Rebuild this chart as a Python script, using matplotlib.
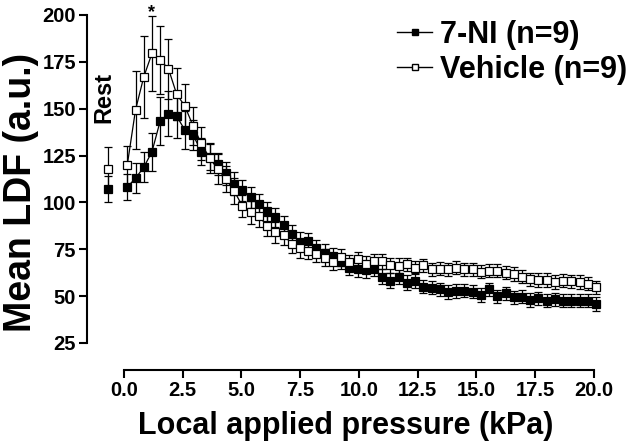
import matplotlib
matplotlib.use("Agg")
import matplotlib.pyplot as plt
from matplotlib.lines import Line2D

plt.rcParams['font.family'] = ['Liberation Sans', 'DejaVu Sans']
plt.rcParams['font.weight'] = 'bold'

# Data
pressure = [0.14, 0.49, 0.84, 1.19, 1.54, 1.89, 2.24, 2.59, 2.94, 3.29,
            3.64, 3.99, 4.34, 4.69, 5.04, 5.39, 5.74, 6.09, 6.44, 6.79,
            7.14, 7.49, 7.84, 8.19, 8.54, 8.89, 9.24, 9.59, 9.94, 10.29,
            10.64, 10.99, 11.34, 11.69, 12.04, 12.39, 12.74, 13.09, 13.44, 13.79,
            14.14, 14.49, 14.84, 15.19, 15.54, 15.89, 16.24, 16.59, 16.94, 17.29,
            17.64, 17.99, 18.34, 18.69, 19.04, 19.39, 19.74, 20.09]

vehicle = [120, 149.3, 166.9, 179.5, 176, 171.4, 157.8, 151.4, 140.8, 131.5,
           123.7, 117.8, 112.5, 106.1, 98, 94.7, 92.7, 87.4, 84, 82.4,
           78, 75.5, 74.1, 72.5, 70.5, 68.4, 70.8, 68.2, 69.8, 67.3,
           68.7, 68.7, 66.4, 66.1, 67.1, 65.2, 66.4, 64.3, 64.6, 64.3,
           65.2, 64.3, 64.3, 63, 63.6, 63.6, 62.5, 61.8, 60.4, 59,
           58.6, 58.6, 57.5, 58.2, 57.9, 57.5, 56.5, 54.7]
vehicle_se = [10, 21, 22, 20, 18, 16, 14, 12, 10, 9,
              8, 8, 7, 7, 6, 6, 6, 5.5, 5.5, 5,
              5, 5, 4.5, 4.5, 4.5, 4.5, 4.5, 4, 4, 4,
              4, 4, 4, 4, 3.5, 3.5, 3.5, 3.5, 3.5, 3.5,
              3.5, 3.5, 3.5, 3.5, 3.5, 3.5, 3.5, 3.5, 3.5, 3.5,
              3.5, 3.5, 3.5, 3.5, 3.5, 3.5, 3.5, 3.5]

ni = [108.2, 112.9, 118.7, 127, 143.4, 147.3, 146.1, 138.6, 136, 127.1,
      124.2, 120.5, 115.5, 110, 106.4, 102.7, 99.3, 95.2, 92, 87.8,
      83.1, 79, 79.2, 75.5, 73.2, 71.4, 68.2, 65, 64.3, 63.9,
      64.6, 60.4, 58.1, 60.4, 57.2, 58.1, 55, 54.5, 53.6, 52.2,
      52.7, 52.9, 52.4, 50.6, 53.6, 50, 51.5, 49.4, 49.7, 47.9,
      48.8, 47.5, 48.4, 47.5, 47.5, 47.5, 47.5, 45.6]
ni_se = [7, 8, 8, 10, 13, 12, 12, 10, 8, 7,
         7, 6, 6, 6, 5.5, 5.5, 5, 5, 5, 5,
         5, 5, 4.5, 4.5, 4.5, 4.5, 4, 4, 4, 4,
         4, 4, 4, 4, 4, 4, 3.5, 3.5, 3.5, 3.5,
         3.5, 3.5, 3.5, 3.5, 3.5, 3.5, 3.5, 3.5, 3.5, 3.5,
         3.5, 3.5, 3.5, 3.5, 3.5, 3.5, 3.5, 3.8]

rest_x = -0.7
rest_vehicle, rest_vehicle_se = 117.8, 12
rest_ni, rest_ni_se = 107.3, 7

xticks = [0.0, 2.5, 5.0, 7.5, 10.0, 12.5, 15.0, 17.5, 20.0]
yticks = [25, 50, 75, 100, 125, 150, 175, 200]

W, H = 640, 447
fig = plt.figure(figsize=(W/100, H/100), dpi=100)
ax = fig.add_axes([87/W, 1-370/H, (605-87)/W, (370-15)/H])
ax.set_xlim(-1.574, 20.47)
ax.set_ylim(10.57, 200)

ms = 5.4
kw = dict(color='black', lw=0.9, elinewidth=0.9, capsize=3, capthick=0.9, markersize=ms, markeredgewidth=0.9)
ax.errorbar(pressure, ni, yerr=ni_se, fmt='-s', markerfacecolor='black', markeredgecolor='black', zorder=3, **kw)
ax.errorbar(pressure, vehicle, yerr=vehicle_se, fmt='-s', markerfacecolor='white', markeredgecolor='black', zorder=4, **kw)
ax.errorbar([rest_x], [rest_ni], yerr=[rest_ni_se], fmt='s', markerfacecolor='black', markeredgecolor='black', zorder=3, **kw)
ax.errorbar([rest_x], [rest_vehicle], yerr=[rest_vehicle_se], fmt='s', markerfacecolor='white', markeredgecolor='black', zorder=4, **kw)

ax.text(-0.85, 156, 'Rest', rotation=90, ha='center', va='center', fontsize=17, fontweight='bold')
ax.text(1.19, 198.9, '*', ha='center', va='baseline', fontsize=13, fontweight='bold', clip_on=False)

for s in ['top', 'right']:
    ax.spines[s].set_visible(False)
ax.spines['left'].set_bounds(25, 200)
ax.spines['bottom'].set_bounds(0, 20)
ax.spines['left'].set_linewidth(1.5)
ax.spines['bottom'].set_linewidth(1.5)

ax.set_xticks(xticks)
ax.set_xticklabels([f'{v:.1f}' for v in xticks])
ax.set_yticks(yticks)
ax.set_yticklabels([str(v) for v in yticks])
ax.tick_params(axis='both', direction='out', length=6, width=1.5, labelsize=14.5, pad=2)
for lab in ax.get_xticklabels() + ax.get_yticklabels():
    lab.set_fontweight('bold')

ax.set_xlabel('Local applied pressure (kPa)', fontsize=22, fontweight='bold', labelpad=8)
ax.set_ylabel('Mean LDF (a.u.)', fontsize=27, fontweight='bold', labelpad=2)

handles = [Line2D([], [], color='black', lw=1, marker='s', markersize=4.5, markerfacecolor='black', markeredgecolor='black'),
           Line2D([], [], color='black', lw=1, marker='s', markersize=4.5, markerfacecolor='white', markeredgecolor='black')]
leg = fig.legend(handles, ['7-NI (n=9)', 'Vehicle (n=9)'], loc='upper left', bbox_to_anchor=(397/W, 1-20/H),
                 frameon=False, handlelength=1.15, handletextpad=0.25, labelspacing=0.15,
                 borderpad=0, borderaxespad=0, prop={'weight': 'bold', 'size': 22})

fig.savefig('out.png', dpi=100)
